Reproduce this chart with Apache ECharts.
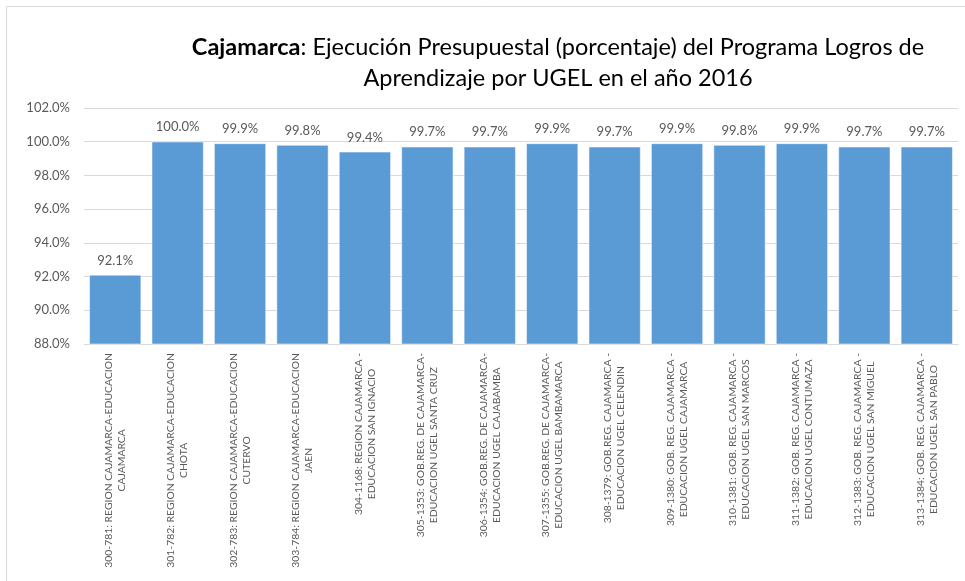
<!DOCTYPE html>
<html lang="es">
<head>
    <meta charset="UTF-8">
    <title>Cajamarca</title>
    <style>
        html, body { margin: 0; padding: 0; background: #fff; }
    </style>
</head>
<body>
    <div id="chart" style="width:965px; height:581px;"></div>
    <script src="https://cdn.jsdelivr.net/npm/echarts@6/dist/echarts.min.js"></script>
    <script>
        const categories = [
            '300-781: REGION CAJAMARCA-EDUCACION\nCAJAMARCA',
            '301-782: REGION CAJAMARCA-EDUCACION\nCHOTA',
            '302-783: REGION CAJAMARCA-EDUCACION\nCUTERVO',
            '303-784: REGION CAJAMARCA-EDUCACION\nJAEN',
            '304-1168: REGION CAJAMARCA -\nEDUCACION SAN IGNACIO',
            '305-1353: GOB.REG. DE CAJAMARCA-\nEDUCACION UGEL SANTA CRUZ',
            '306-1354: GOB.REG. DE CAJAMARCA-\nEDUCACION UGEL CAJABAMBA',
            '307-1355: GOB.REG. DE CAJAMARCA-\nEDUCACION UGEL BAMBAMARCA',
            '308-1379: GOB.REG. CAJAMARCA -\nEDUCACION UGEL CELENDIN',
            '309-1380: GOB. REG. CAJAMARCA -\nEDUCACION UGEL CAJAMARCA',
            '310-1381: GOB. REG. CAJAMARCA -\nEDUCACION UGEL SAN MARCOS',
            '311-1382: GOB. REG. CAJAMARCA -\nEDUCACION UGEL CONTUMAZA',
            '312-1383: GOB. REG. CAJAMARCA -\nEDUCACION UGEL SAN MIGUEL',
            '313-1384: GOB. REG. CAJAMARCA -\nEDUCACION UGEL SAN PABLO'
        ]
        // ejecucion en porcentaje
        const ejecucion = [92.1, 100.0, 99.9, 99.8, 99.4, 99.7, 99.7, 99.9, 99.7, 99.9, 99.8, 99.9, 99.7, 99.7]

        const yMin = 88
        const yMax = 102
        const yStep = 2

        const gris = '#595959'
        const fuente = 'Lato, "Open Sans", sans-serif'

        const myChart = echarts.init(document.getElementById('chart'))

        const option = {
            backgroundColor: '#fff',
            animation: false,
            title: {
                text: '{b|Cajamarca}: Ejecución Presupuestal (porcentaje) del Programa Logros de\nAprendizaje por UGEL en el año 2016',
                left: 553,
                top: 27,
                textAlign: 'center',
                textStyle: {
                    fontFamily: fuente,
                    fontSize: 23.5,
                    fontWeight: 'normal',
                    color: '#000',
                    lineHeight: 31,
                    rich: {
                        b: { fontFamily: fuente, fontSize: 23.5, fontWeight: 'bold', color: '#000', lineHeight: 31 }
                    }
                }
            },
            graphic: [{
                type: 'rect',
                shape: { x: 6.5, y: 6.5, width: 970, height: 590 },
                style: { fill: 'none', stroke: '#d9d9d9', lineWidth: 1 },
                silent: true
            }],
            grid: {
                left: 84,
                right: 7,
                top: 108,
                bottom: 237
            },
            xAxis: {
                type: 'category',
                data: categories,
                axisLine: { lineStyle: { color: '#d9d9d9' } },
                axisTick: { show: false },
                axisLabel: {
                    interval: 0,
                    rotate: 90,
                    margin: 9,
                    fontFamily: fuente,
                    fontSize: 10.4,
                    color: gris,
                    lineHeight: 13,
                    formatter: v => v.split('\n').map(s => '{c|' + s + '}').join('\n'),
                    rich: {
                        c: { align: 'center', fontFamily: fuente, fontSize: 10.4, color: gris, lineHeight: 13 }
                    }
                }
            },
            yAxis: {
                type: 'value',
                min: yMin,
                max: yMax,
                interval: yStep,
                axisLine: { show: false },
                axisTick: { show: false },
                splitLine: { lineStyle: { color: '#d9d9d9' } },
                axisLabel: {
                    margin: 14,
                    fontFamily: fuente,
                    fontSize: 13,
                    color: gris,
                    formatter: v => v.toFixed(1) + '%'
                }
            },
            series: [{
                type: 'bar',
                data: ejecucion,
                barCategoryGap: '17%',
                itemStyle: {
                    color: '#5b9bd5',
                    borderColor: '#ffffff',
                    borderWidth: 0.5
                },
                label: {
                    show: true,
                    position: 'top',
                    distance: 8,
                    fontFamily: fuente,
                    fontSize: 13,
                    color: gris,
                    formatter: p => p.value.toFixed(1) + '%'
                }
            }]
        }

        myChart.setOption(option)
    </script>
</body>
</html>
